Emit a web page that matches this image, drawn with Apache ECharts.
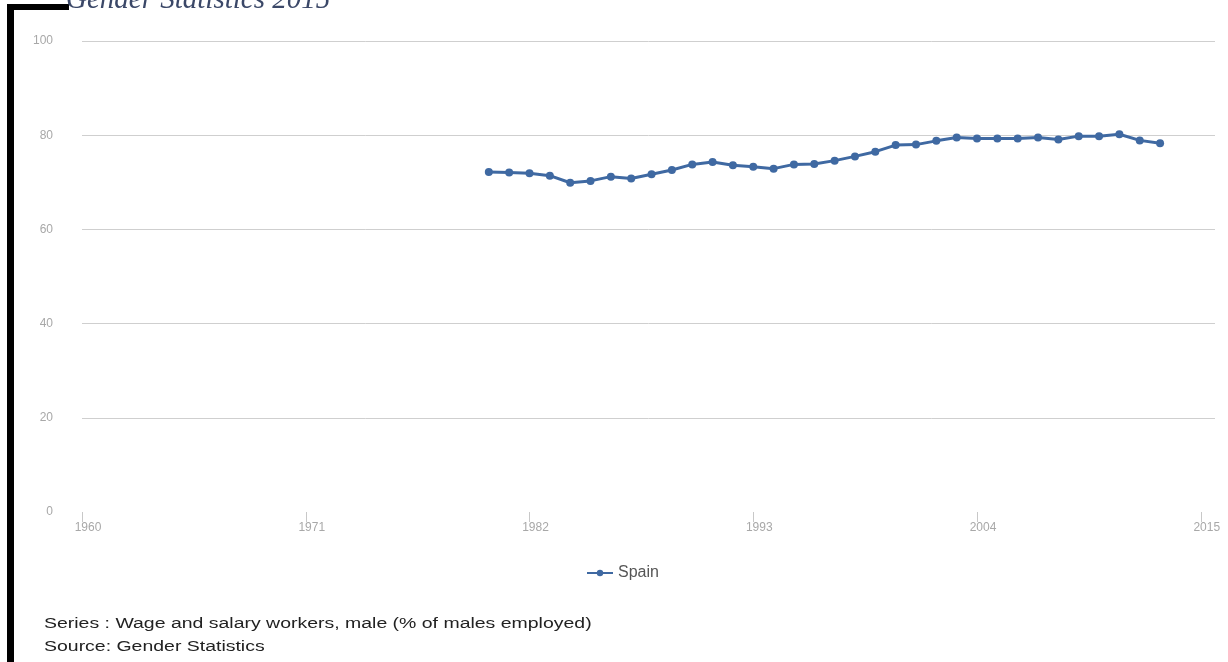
<!DOCTYPE html>
<html>
<head>
<meta charset="utf-8">
<script src="https://cdn.jsdelivr.net/npm/echarts@6/dist/echarts.min.js"></script>
<style>
html,body{margin:0;padding:0;background:#fff;}
#chart{width:1228px;height:662px;}
</style>
</head>
<body>
<div id="chart"></div>
<script>
const years = [1980,1981,1982,1983,1984,1985,1986,1987,1988,1989,1990,1991,1992,1993,1994,1995,1996,1997,1998,1999,2000,2001,2002,2003,2004,2005,2006,2007,2008,2009,2010,2011,2012,2013];
const spainValues = [72.2,72.1,71.9,71.4,69.9,70.3,71.2,70.8,71.7,72.6,73.8,74.3,73.6,73.3,72.9,73.8,73.9,74.6,75.5,76.5,77.9,78.0,78.8,79.5,79.3,79.3,79.3,79.5,79.1,79.8,79.8,80.2,78.9,78.3];
const xTicks = [1960,1971,1982,1993,2004,2015];
const yTicks = [0,20,40,60,80,100];
const seriesName = 'Spain';
const titleText = 'Gender Statistics 2015';
const footerSeries = 'Series : Wage and salary workers, male (% of males employed)';
const footerSource = 'Source: Gender Statistics';

const chart = echarts.init(document.getElementById('chart'), null, {renderer: 'canvas'});
const pairs = years.map((y, i) => [y, spainValues[i]]);

chart.setOption({
  animation: false,
  backgroundColor: '#ffffff',
  grid: {left: 82, right: 13, top: 41, bottom: 150, containLabel: false},
  xAxis: {
    type: 'value',
    min: 1960,
    max: 2015.7,
    axisLine: {show: false},
    splitLine: {show: false},
    axisTick: {show: true, customValues: xTicks, length: 10, lineStyle: {color: '#c8c8c8', width: 1}},
    axisLabel: {customValues: xTicks, formatter: v => String(v), fontFamily: 'Liberation Sans, Arial, sans-serif', fontSize: 12, color: '#a8a8a8', margin: 10, padding: [0, 0, 0, 12]}
  },
  yAxis: {
    type: 'value',
    min: 0,
    max: 100,
    interval: 20,
    axisLine: {show: false},
    axisTick: {show: false},
    axisLabel: {fontFamily: 'Liberation Sans, Arial, sans-serif', fontSize: 12, color: '#a8a8a8', margin: 29},
    splitLine: {show: true, lineStyle: {color: ['transparent', '#cfcfcf', '#cfcfcf', '#cfcfcf', '#cfcfcf', '#cfcfcf'], width: 1}}
  },
  legend: {
    data: [seriesName],
    top: 565,
    left: 586,
    padding: 0,
    itemWidth: 26,
    itemHeight: 8,
    textStyle: {fontFamily: 'Liberation Sans, Arial, sans-serif', fontSize: 16, color: '#555555'}
  },
  series: [{
    name: seriesName,
    type: 'line',
    data: pairs,
    symbol: 'circle',
    symbolSize: 8,
    lineStyle: {color: '#3f69a2', width: 3},
    itemStyle: {color: '#3f69a2'}
  }],
  graphic: [
    {type: 'rect', left: 7, top: 4, shape: {width: 62, height: 6}, style: {fill: '#000'}, z: 10},
    {type: 'rect', left: 7, top: 4, shape: {width: 7, height: 660}, style: {fill: '#000'}, z: 10},
    {type: 'text', x: 66, y: 0, z: 11, style: {text: titleText, font: 'italic 29px "Liberation Serif", "Times New Roman", serif', fill: '#3b4868', verticalAlign: 'middle', align: 'left'}},
    {type: 'text', x: 44, y: 624, scaleX: 1.39, z: 11, style: {text: footerSeries, font: '14px "Liberation Sans", Arial, sans-serif', fill: '#222222', verticalAlign: 'middle', align: 'left'}},
    {type: 'text', x: 44, y: 647, scaleX: 1.39, z: 11, style: {text: footerSource, font: '14px "Liberation Sans", Arial, sans-serif', fill: '#222222', verticalAlign: 'middle', align: 'left'}}
  ]
});
</script>
</body>
</html>
